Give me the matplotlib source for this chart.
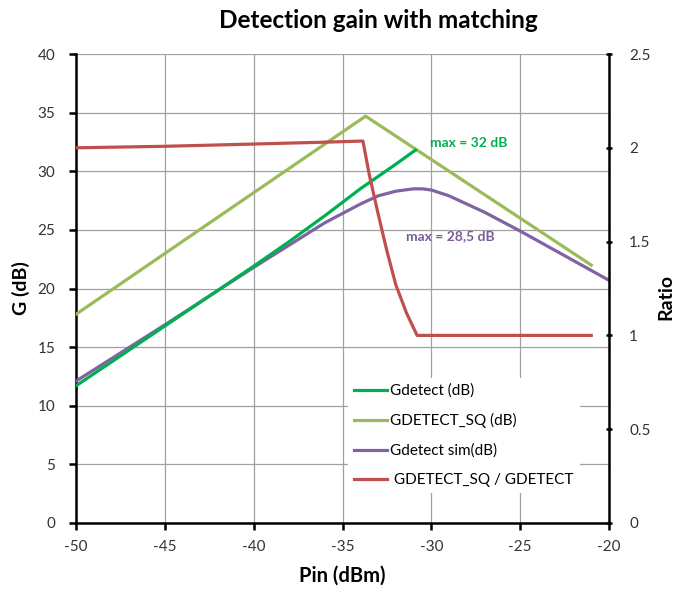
import matplotlib
matplotlib.use("Agg")
import matplotlib.pyplot as plt
from matplotlib.ticker import FuncFormatter

plt.rcParams['font.family'] = ['Lato', 'DejaVu Sans']
plt.rcParams['axes.unicode_minus'] = False

# Data
gdet_x = [-50, -45, -40, -38, -36, -34, -32, -30.9]
gdet_y = [11.7, 16.8, 21.9, 24.0, 26.2, 28.5, 30.6, 31.8]

gsq_x = [-50, -33.7, -21]
gsq_y = [17.8, 34.7, 22.0]

gsim_x = [-50, -45, -40, -38, -36, -35, -34, -33, -32, -31, -30.5, -30, -29, -28, -27, -25, -22.5, -20]
gsim_y = [12.1, 16.9, 21.8, 23.7, 25.6, 26.4, 27.2, 27.9, 28.3, 28.5, 28.5, 28.4, 27.9, 27.2, 26.5, 24.9, 22.8, 20.7]

ratio_x = [-50, -45, -40, -36, -33.85, -33.5, -33.0, -32.5, -32.0, -31.4, -30.8, -21]
ratio_y = [2.0, 2.008, 2.02, 2.03, 2.036, 1.86, 1.65, 1.45, 1.27, 1.12, 1.0, 1.0]

xticks = [-50, -45, -40, -35, -30, -25, -20]
yticks_left = [0, 5, 10, 15, 20, 25, 30, 35, 40]
yticks_right = [0, 0.5, 1, 1.5, 2, 2.5]

c_gdet = '#00B050'
c_gsq = '#9BBB59'
c_gsim = '#8064A2'
c_ratio = '#C0504D'

fig = plt.figure(figsize=(6.76, 5.90), dpi=100)
ax = fig.add_axes([76/676, 1-523/590, (609-76)/676, (523-54)/590])
ax2 = ax.twinx()

lw = 2.3
l1, = ax.plot(gdet_x, gdet_y, color=c_gdet, lw=lw, label='Gdetect (dB)', zorder=4)
l2, = ax.plot(gsq_x, gsq_y, color=c_gsq, lw=lw, label='GDETECT_SQ (dB)', zorder=3)
l3, = ax.plot(gsim_x, gsim_y, color=c_gsim, lw=lw, label='Gdetect sim(dB)', zorder=3)
l4, = ax2.plot(ratio_x, ratio_y, color=c_ratio, lw=lw, label=' GDETECT_SQ / GDETECT')

ax.set_xlim(-50, -20)
ax.set_ylim(0, 40)
ax2.set_ylim(0, 2.5)
ax.set_xticks(xticks)
ax.set_yticks(yticks_left)
ax2.set_yticks(yticks_right)
ax2.yaxis.set_major_formatter(FuncFormatter(lambda v, p: '%g' % v))

ax.grid(True, color='#A0A0A0', lw=0.9)
ax.set_axisbelow(True)

for a in (ax, ax2):
    for s in ('left', 'right', 'bottom'):
        a.spines[s].set_linewidth(1.8)
        a.spines[s].set_color('black')
    a.spines['top'].set_visible(False)
ax.spines['right'].set_visible(False)
ax2.spines['left'].set_visible(False)
ax2.spines['bottom'].set_visible(False)

ax.tick_params(axis='x', labelsize=11, width=1.8, length=5, direction='out', colors='black',
               labelcolor='#333333', pad=7)
ax.tick_params(axis='y', labelsize=11, width=1.8, length=5, direction='out', colors='black',
               labelcolor='#333333', pad=10)
ax2.tick_params(axis='y', labelsize=11, width=1.8, length=5, direction='inout', colors='black',
                labelcolor='#333333', pad=12)

ax.set_xlabel('Pin (dBm)', fontsize=14.5, fontweight='bold', labelpad=9)
ax.set_ylabel('G (dB)', fontsize=14, fontweight='bold', labelpad=5)
fig.text(666/676, 1-297/590, 'Ratio', fontsize=14, fontweight='bold', rotation=90,
         ha='center', va='center')

fig.text(378/676, 1-21/590, 'Detection gain with matching', fontsize=17.5, fontweight='bold',
         ha='center', va='center')

ax.text(-30.1, 32.4, 'max = 32 dB', color=c_gdet, fontsize=10, fontweight='bold', va='center', zorder=6)
ax.text(-31.4, 24.5, 'max = 28,5 dB', color='#7A5C9E', fontsize=10, fontweight='bold', va='center', zorder=6)

ax2.set_zorder(ax.get_zorder() + 1)
ax.patch.set_visible(True)
ax2.patch.set_visible(False)

leg = ax2.legend(handles=[l1, l2, l3, l4], loc='lower left', bbox_to_anchor=(264/533, 22/469),
                 frameon=True, fontsize=11, handlelength=2.2, handletextpad=0.2, labelspacing=1.0,
                 borderpad=0.4)
leg.get_frame().set_edgecolor('none')
leg.get_frame().set_facecolor('white')
leg.get_frame().set_alpha(1)
leg.get_frame().set_boxstyle('square', pad=0)

fig.savefig('out.png', dpi=100)
